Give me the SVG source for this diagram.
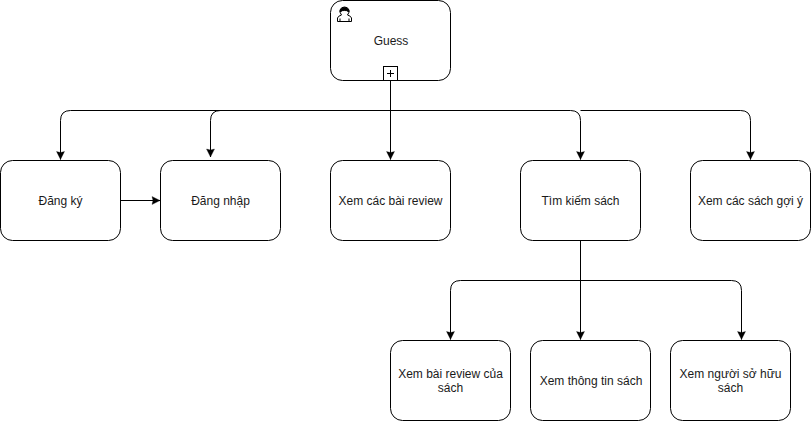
<svg xmlns="http://www.w3.org/2000/svg" width="811" height="421" viewBox="0 0 811 421">
<style>
.box{fill:#fff;stroke:#000;stroke-width:1}
.lbl{font-family:"Liberation Sans",Arial,sans-serif;font-size:12px;fill:#1a1a1a;text-anchor:middle}
.edge{fill:none;stroke:#000;stroke-width:1}
</style>
<defs>
<marker id="arrow" markerUnits="userSpaceOnUse" markerWidth="12" markerHeight="12" refX="10" refY="5" orient="auto">
<path d="M2 1L10 5L2 9L3 5Z" fill="#000" stroke="#000" stroke-width="0.3"/>
</marker>
</defs>
<rect width="811" height="421" fill="#fff"/>
<g id="connectors">
<path class="edge" d="M390.500 80.500V110.500H70.500Q60.500 110.500 60.500 120.500V159.500" marker-end="url(#arrow)"/>
<path class="edge" d="M390.500 110.500H220.500Q210.500 110.500 210.500 120.500V157" marker-end="url(#arrow)"/>
<path class="edge" d="M390.500 80.500V159.500" marker-end="url(#arrow)"/>
<path class="edge" d="M390.500 110.500H570.500Q580.500 110.500 580.500 120.500V159.500" marker-end="url(#arrow)"/>
<path class="edge" d="M580.500 110.500H740.500Q750.500 110.500 750.500 120.500V159.500" marker-end="url(#arrow)"/>
<path class="edge" d="M120.500 200.500H160" marker-end="url(#arrow)"/>
<path class="edge" d="M580.500 240.500V280.500H460.500Q450.500 280.500 450.500 290.500V339.500" marker-end="url(#arrow)"/>
<path class="edge" d="M580.500 240.500V339.500" marker-end="url(#arrow)"/>
<path class="edge" d="M580.500 280.500H731.500Q741.500 280.500 741.500 290.500V339.500" marker-end="url(#arrow)"/>
</g>
<g id="guess">
<rect class="box" x="330.500" y="0.500" width="120" height="80" rx="12" ry="12"/>
<path d="M337.500 21.500V18Q338 16 341.500 15Q339.500 12.500 340 10Q341 7 344.500 7Q348 7 349 10Q349.500 12.500 347.500 15Q351 16 351.500 18V21.500Z" fill="#fff" stroke="#000" stroke-width="1"/>
<path d="M340 12Q340.500 7.500 344.500 7.500Q348.500 7.500 349 12Q346.500 10 344.500 10.500Q342.500 10 340 12Z" fill="#000" stroke="#000" stroke-width="1"/>
<path d="M340 21.500V18.500M349 21.500V18.500" fill="none" stroke="#000" stroke-width="1"/>
<rect x="383.500" y="66.500" width="14" height="14" fill="#fff" stroke="#000" stroke-width="1"/>
<path d="M387 73.500H394M390.500 70V77" fill="none" stroke="#000" stroke-width="1"/>
<text class="lbl" x="391" y="45">Guess</text>
</g>
<g id="dangky">
<rect class="box" x="0.500" y="160.500" width="120" height="80" rx="12" ry="12"/>
<text class="lbl" x="60.500" y="205">Đăng ký</text>
</g>
<g id="dangnhap">
<rect class="box" x="160.500" y="160.500" width="120" height="80" rx="12" ry="12"/>
<text class="lbl" x="220.500" y="205">Đăng nhập</text>
</g>
<g id="xemreview">
<rect class="box" x="330.500" y="160.500" width="120" height="80" rx="12" ry="12"/>
<text class="lbl" x="390.500" y="205">Xem các bài review</text>
</g>
<g id="timkiem">
<rect class="box" x="520.500" y="160.500" width="120" height="80" rx="12" ry="12"/>
<text class="lbl" x="580.500" y="205">Tìm kiếm sách</text>
</g>
<g id="goiy">
<rect class="box" x="690.500" y="160.500" width="120" height="80" rx="12" ry="12"/>
<text class="lbl" x="750.500" y="205">Xem các sách gợi ý</text>
</g>
<g id="baireview">
<rect class="box" x="390.500" y="340.500" width="120" height="80" rx="12" ry="12"/>
<text class="lbl" x="450.500" y="378">Xem bài review của</text>
<text class="lbl" x="450.500" y="392">sách</text>
</g>
<g id="thongtin">
<rect class="box" x="530.500" y="340.500" width="120" height="80" rx="12" ry="12"/>
<text class="lbl" x="591" y="385">Xem thông tin sách</text>
</g>
<g id="nguoisohuu">
<rect class="box" x="670.500" y="340.500" width="120" height="80" rx="12" ry="12"/>
<text class="lbl" x="730.500" y="378">Xem người sở hữu</text>
<text class="lbl" x="730.500" y="392">sách</text>
</g>
</svg>
